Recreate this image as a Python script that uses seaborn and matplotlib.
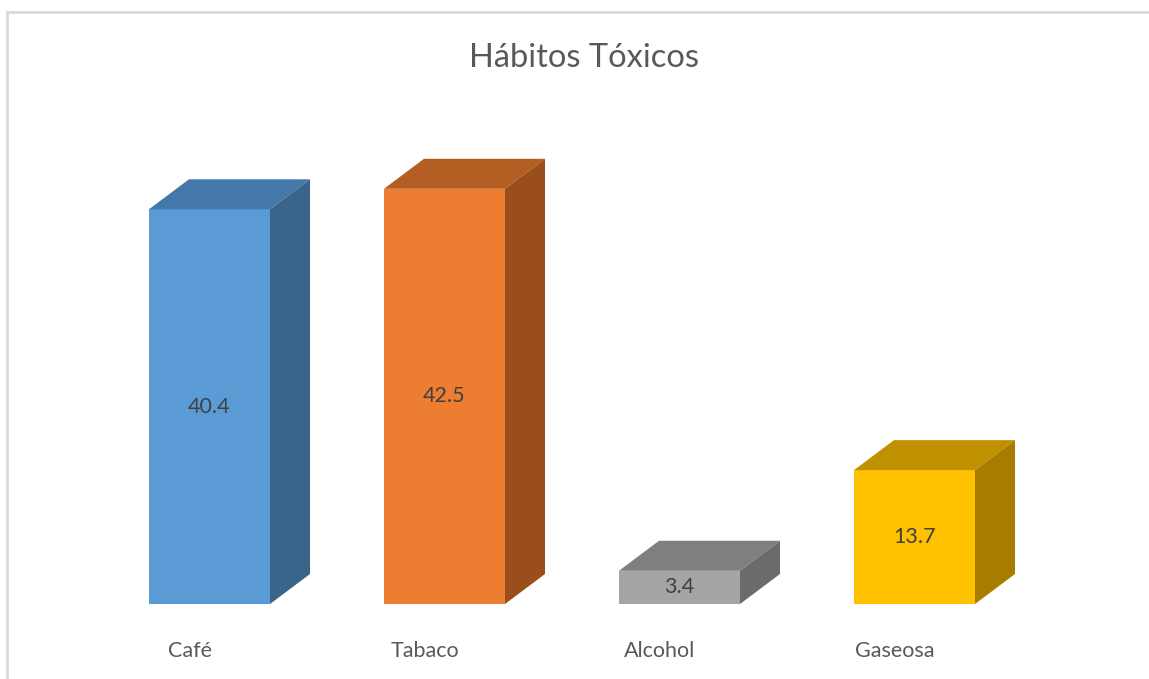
import matplotlib
matplotlib.use("Agg")
import matplotlib.pyplot as plt
from matplotlib.patches import Polygon
from matplotlib.lines import Line2D
import seaborn as sns

# Hábitos Tóxicos - 3D column look
categorias = ["Café", "Tabaco", "Alcohol", "Gaseosa"]
valores = [40.4, 42.5, 3.4, 13.7]
color_frente = ["#5B9BD5", "#ED7D31", "#A5A5A5", "#FFC000"]
color_arriba = ["#4478A8", "#B35E22", "#7F7F7F", "#BF9000"]
color_lado = ["#3A6489", "#994E1C", "#6B6B6B", "#A67D00"]

sns.set_style("white")
plt.rcParams["font.family"] = ["Lato", "DejaVu Sans"]

W, H = 1149, 679
fig = plt.figure(figsize=(W / 100, H / 100), dpi=100)
# axes placed so category spacing ~235px and 9.77 px per unit
ax = fig.add_axes([33.25 / W, 75 / H, 1057.5 / W, 488.5 / H])

sns.barplot(x=categorias, y=valores, hue=categorias, palette=color_frente,
            width=0.515, saturation=1, legend=False, linewidth=0,
            edgecolor="none", ax=ax)
ax.set_xlim(-0.75, 3.75)
ax.set_ylim(0, 50)

# depth of the fake 3D boxes (40px right, 30px up)
dx = 40 / 235
dy = 30 / 9.77

for i, p in enumerate(ax.patches[:len(valores)]):
    x0 = p.get_x()
    x1 = x0 + p.get_width()
    h = p.get_height()
    top = Polygon([(x0, h), (x0 + dx, h + dy), (x1 + dx, h + dy), (x1, h)],
                  closed=True, facecolor=color_arriba[i], edgecolor="none")
    side = Polygon([(x1, 0), (x1 + dx, dy), (x1 + dx, h + dy), (x1, h)],
                   closed=True, facecolor=color_lado[i], edgecolor="none")
    ax.add_patch(top)
    ax.add_patch(side)

for c in ax.containers:
    ax.bar_label(c, label_type="center", fmt="%.1f", fontsize=15.5, color="#404040")

ax.set_xticks([i - 0.085 for i in range(len(categorias))])
ax.set_xticklabels(categorias, fontsize=15.5, color="#595959")
ax.tick_params(axis="x", length=0, pad=34)
plt.setp(ax.get_xticklabels(), va="center")
ax.set_yticks([])
ax.set_xlabel("")
ax.set_ylabel("")
sns.despine(ax=ax, left=True, bottom=True)

fig.text(584 / W, 1 - 58 / H, "Hábitos Tóxicos", ha="center", va="center",
         fontsize=23.5, color="#595959")

# light border of the chart area
fig.add_artist(Line2D([7 / W, 1], [1 - 12 / H, 1 - 12 / H], color="#D9D9D9", lw=2))
fig.add_artist(Line2D([7 / W, 7 / W], [0, 1 - 12 / H], color="#D9D9D9", lw=2))

fig.savefig("out.png", dpi=100)
